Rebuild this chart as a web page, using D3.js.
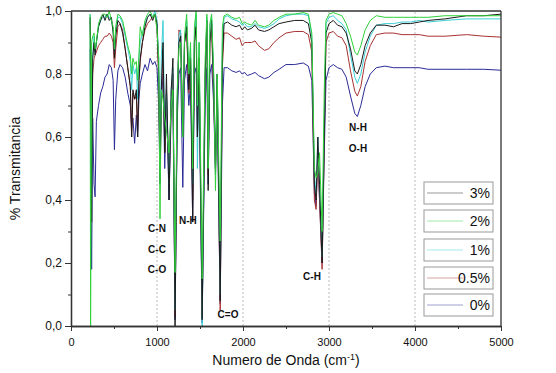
<!DOCTYPE html>
<html>
<head>
<meta charset="utf-8">
<script src="https://cdn.jsdelivr.net/npm/d3@7"></script>
<style>
  body { margin: 0; background: #fff; }
  text { font-family: "Liberation Sans", Arial, sans-serif; }
</style>
</head>
<body>
<div id="chart"></div>
<script>
// wavenumber (cm-1) shared by all spectra
const wavenumber = [222, 228, 240, 252, 268, 280, 295, 320, 345, 370, 395, 420, 445, 470, 490, 505, 520, 545, 570, 600,
  630, 660, 690, 705, 720, 740, 760, 775, 790, 805, 830, 860, 890, 920, 950, 975, 1000, 1020, 1035, 1050,
  1070, 1090, 1110, 1140, 1165, 1185, 1210, 1235, 1255, 1275, 1300, 1320, 1345, 1370, 1390, 1415, 1435, 1455, 1470, 1490,
  1525, 1560, 1580, 1595, 1615, 1635, 1660, 1680, 1700, 1735, 1760, 1780, 1820, 1870, 1920, 1960, 1990, 2020, 2050, 2100,
  2140, 2180, 2250, 2300, 2360, 2420, 2500, 2600, 2700, 2760, 2800, 2830, 2850, 2870, 2890, 2920, 2945, 2965, 3000, 3050,
  3100, 3150, 3200, 3250, 3300, 3330, 3370, 3420, 3480, 3550, 3650, 3750, 3850, 3950, 4050, 4150, 4350, 4600, 4800, 5000];

// transmittance for each sample
const t3 = [0.98, 0.9, 0.33, 0.85, 0.9, 0.86, 0.9, 0.95, 0.97, 0.99, 0.97, 0.99, 0.97, 0.98, 0.93, 0.85, 0.92, 0.97, 0.96, 0.93,
  0.88, 0.82, 0.76, 0.6, 0.75, 0.72, 0.75, 0.6, 0.78, 0.85, 0.9, 0.95, 0.98, 0.99, 0.97, 0.99, 0.96, 0.8, 0.46, 0.75,
  0.9, 0.55, 0.8, 0.4, 0.75, 0.85, 0.0, 0.7, 0.9, 0.92, 0.6, 0.9, 0.95, 0.75, 0.85, 0.33, 0.9, 0.95, 0.6, 0.85,
  0.02, 0.8, 0.97, 0.43, 0.9, 0.97, 0.75, 0.5, 0.8, 0.08, 0.85, 0.96, 0.965, 0.955, 0.95, 0.955, 0.94, 0.95, 0.94, 0.945,
  0.955, 0.94, 0.935, 0.94, 0.95, 0.96, 0.965, 0.97, 0.97, 0.96, 0.9, 0.45, 0.4, 0.6, 0.45, 0.2, 0.6, 0.93, 0.96, 0.97,
  0.955, 0.95, 0.93, 0.88, 0.81, 0.8, 0.83, 0.89, 0.93, 0.955, 0.955, 0.95, 0.96, 0.96, 0.965, 0.97, 0.975, 0.985, 0.985, 0.99];

const t2 = [0.99, 0.0, 0.9, 0.92, 0.93, 0.88, 0.9, 0.96, 0.98, 0.99, 0.99, 0.98, 1.0, 0.97, 0.95, 0.88, 0.95, 0.99, 0.985, 0.97,
  0.93, 0.89, 0.86, 0.8, 0.85, 0.83, 0.84, 0.78, 0.86, 0.95, 0.92, 0.97, 0.99, 1.0, 0.98, 0.99, 0.94, 0.85, 0.34, 0.75,
  0.72, 0.66, 0.62, 0.55, 0.7, 0.75, 0.17, 0.75, 0.88, 0.9, 0.6, 0.92, 0.99, 0.8, 0.9, 0.5, 0.95, 1.0, 0.7, 0.9,
  0.15, 0.85, 0.99, 0.5, 0.96, 0.99, 0.8, 0.43, 0.8, 0.27, 0.95, 0.985, 0.99, 0.98, 0.975, 0.98, 0.96, 0.965, 0.96, 0.955,
  0.97, 0.955, 0.95, 0.955, 0.97, 0.98, 0.99, 0.99, 0.995, 0.99, 0.93, 0.5, 0.47, 0.49, 0.55, 0.3, 0.75, 0.97, 0.99, 0.995,
  0.99, 0.985, 0.96, 0.92, 0.87, 0.86, 0.89, 0.94, 0.97, 0.985, 0.98, 0.98, 0.98, 0.98, 0.98, 0.98, 0.985, 0.985, 0.985, 0.985];

const t1 = [0.99, 0.6, 0.4, 0.85, 0.92, 0.87, 0.9, 0.95, 0.97, 0.98, 0.98, 0.99, 0.98, 0.97, 0.94, 0.87, 0.94, 0.98, 0.98, 0.96,
  0.92, 0.88, 0.84, 0.75, 0.83, 0.8, 0.82, 0.72, 0.85, 0.9, 0.93, 0.96, 0.98, 0.99, 0.98, 1.0, 0.97, 0.85, 0.5, 0.85,
  0.97, 0.6, 0.75, 0.45, 0.75, 0.82, 0.05, 0.72, 0.92, 0.94, 0.6, 0.9, 0.97, 0.8, 0.88, 0.45, 0.92, 0.99, 0.5, 0.9,
  0.0, 0.8, 0.98, 0.5, 0.95, 0.98, 0.78, 0.5, 0.8, 0.1, 0.9, 0.98, 0.985, 0.975, 0.97, 0.965, 0.955, 0.96, 0.95, 0.95,
  0.96, 0.95, 0.945, 0.95, 0.96, 0.975, 0.985, 0.99, 0.99, 0.985, 0.92, 0.48, 0.42, 0.6, 0.45, 0.22, 0.65, 0.96, 0.98, 0.985,
  0.97, 0.96, 0.94, 0.86, 0.79, 0.77, 0.8, 0.87, 0.92, 0.955, 0.96, 0.96, 0.965, 0.965, 0.97, 0.965, 0.97, 0.975, 0.975, 0.975];

const t05 = [0.97, 0.8, 0.5, 0.8, 0.85, 0.86, 0.87, 0.89, 0.9, 0.91, 0.92, 0.92, 0.93, 0.92, 0.9, 0.82, 0.88, 0.95, 0.96, 0.94,
  0.88, 0.82, 0.76, 0.6, 0.74, 0.72, 0.73, 0.62, 0.78, 0.84, 0.9, 0.94, 0.96, 0.97, 0.98, 0.99, 0.95, 0.78, 0.5, 0.72,
  0.88, 0.55, 0.75, 0.45, 0.7, 0.8, 0.03, 0.7, 0.94, 0.93, 0.62, 0.9, 0.93, 0.74, 0.85, 0.4, 0.9, 0.97, 0.6, 0.85,
  0.03, 0.78, 0.95, 0.48, 0.9, 0.94, 0.72, 0.5, 0.78, 0.05, 0.82, 0.93, 0.93, 0.92, 0.91, 0.915, 0.89, 0.9, 0.9, 0.9,
  0.905, 0.89, 0.875, 0.88, 0.9, 0.915, 0.93, 0.935, 0.935, 0.925, 0.87, 0.4, 0.37, 0.55, 0.4, 0.18, 0.6, 0.9, 0.93, 0.935,
  0.92, 0.915, 0.89, 0.81, 0.745, 0.73, 0.76, 0.84, 0.89, 0.925, 0.93, 0.93, 0.925, 0.925, 0.925, 0.92, 0.92, 0.925, 0.92, 0.917];

const t0 = [0.88, 0.6, 0.18, 0.66, 0.45, 0.41, 0.65, 0.7, 0.74, 0.76, 0.79, 0.8, 0.83, 0.82, 0.78, 0.56, 0.72, 0.81, 0.83, 0.82,
  0.79, 0.74, 0.7, 0.63, 0.66, 0.58, 0.67, 0.6, 0.72, 0.77, 0.8, 0.83, 0.81, 0.85, 0.83, 0.84, 0.82, 0.7, 0.45, 0.7,
  0.8, 0.5, 0.72, 0.4, 0.68, 0.72, 0.02, 0.65, 0.8, 0.82, 0.44, 0.78, 0.83, 0.7, 0.77, 0.33, 0.8, 0.82, 0.6, 0.75,
  0.01, 0.7, 0.82, 0.45, 0.8, 0.83, 0.7, 0.48, 0.7, 0.07, 0.7, 0.82, 0.82, 0.81, 0.805, 0.81, 0.8, 0.805, 0.795, 0.8,
  0.805, 0.795, 0.785, 0.79, 0.805, 0.815, 0.83, 0.83, 0.835, 0.825, 0.78, 0.42, 0.38, 0.55, 0.4, 0.2, 0.55, 0.78, 0.82, 0.83,
  0.82, 0.815, 0.79, 0.73, 0.675, 0.665, 0.7, 0.76, 0.8, 0.82, 0.825, 0.82, 0.82, 0.82, 0.82, 0.815, 0.815, 0.815, 0.815, 0.812];

const seriesNames = ["3%", "2%", "1%", "0.5%", "0%"];
const seriesColors = ["#1a1a1a", "#2fd13a", "#3ccfd6", "#a83232", "#2b2b96"];
const seriesValues = [t3, t2, t1, t05, t0];

const xTicks = [0, 1000, 2000, 3000, 4000, 5000];
const yTicks = [0, 0.2, 0.4, 0.6, 0.8, 1.0];
const gridLines = [1000, 2000, 3000, 4000];

const labels = ["C-N", "C-C", "C-O", "N-H", "C=O", "C-H", "N-H", "O-H"];
const labelX = [1000, 1000, 1000, 1360, 1826, 2802, 3337, 3337];
const labelY = [0.308, 0.244, 0.178, 0.336, 0.038, 0.156, 0.629, 0.565];

let width = 556,
    height = 373,
    margin = ({ top: 11, right: 55, bottom: 47, left: 71 });

const svg = d3.select("#chart")
    .append("svg")
    .attr("width", width)
    .attr("height", height)
    .attr("viewBox", [0, 0, width, height]);

let x = d3.scaleLinear()
    .domain([0, 5000])
    .range([margin.left, width - margin.right]);

let y = d3.scaleLinear()
    .domain([0, 1])
    .range([height - margin.bottom, margin.top]);

// dotted vertical grid
svg.append("g")
    .selectAll("line")
    .data(gridLines)
    .join("line")
    .attr("x1", d => x(d)).attr("x2", d => x(d))
    .attr("y1", y(0)).attr("y2", y(1))
    .attr("stroke", "#bbb")
    .attr("stroke-dasharray", "2,2");

// spectra, 0% drawn first so 2% ends on top
const line = d3.line()
    .x((d, i) => x(wavenumber[i]))
    .y(d => y(d));

const order = [4, 3, 2, 0, 1];
svg.append("g")
    .selectAll("path")
    .data(order)
    .join("path")
    .attr("d", i => line(seriesValues[i]))
    .attr("fill", "none")
    .attr("stroke", i => seriesColors[i])
    .attr("stroke-width", 1)
    .attr("stroke-linejoin", "round");

// axes
const xAxis = svg.append("g")
    .attr("transform", `translate(0,${y(0)})`)
    .call(d3.axisBottom(x).tickValues(xTicks).tickFormat(d3.format("d")).tickSize(5).tickSizeOuter(0));
svg.append("g")
    .attr("transform", `translate(0,${y(0)})`)
    .call(d3.axisBottom(x).tickValues(d3.range(500, 5000, 1000)).tickFormat("").tickSize(3).tickSizeOuter(0));

const yAxis = svg.append("g")
    .attr("transform", `translate(${x(0)},0)`)
    .call(d3.axisLeft(y).tickValues(yTicks).tickFormat(d => d3.format(".1f")(d).replace(".", ",")).tickSize(6).tickSizeOuter(0));
svg.append("g")
    .attr("transform", `translate(${x(0)},0)`)
    .call(d3.axisLeft(y).tickValues([0.1, 0.3, 0.5, 0.7, 0.9]).tickFormat("").tickSize(3).tickSizeOuter(0));

svg.selectAll(".domain").attr("stroke", "#333").attr("stroke-width", 1.3);
svg.selectAll(".tick line").attr("stroke", "#333");
svg.selectAll(".tick text").attr("font-size", 11).attr("fill", "#111")
    .attr("font-family", "'Liberation Sans', Arial, sans-serif");
xAxis.selectAll(".tick text").attr("dy", "1.1em");
yAxis.selectAll(".tick text").attr("font-size", 12);

// top and right frame
svg.append("line")
    .attr("x1", x(0)).attr("x2", x(5000))
    .attr("y1", y(1)).attr("y2", y(1))
    .attr("stroke", "#333").attr("stroke-width", 1.3);
svg.append("line")
    .attr("x1", x(5000)).attr("x2", x(5000))
    .attr("y1", y(1)).attr("y2", y(0))
    .attr("stroke", "#333").attr("stroke-width", 1.3);

// band labels
svg.append("g")
    .selectAll("text")
    .data(labels)
    .join("text")
    .attr("x", (d, i) => x(labelX[i]))
    .attr("y", (d, i) => y(labelY[i]))
    .attr("dy", "0.35em")
    .attr("text-anchor", "middle")
    .attr("font-size", 10)
    .attr("font-weight", "bold")
    .attr("fill", "#111")
    .text(d => d);

// axis titles
svg.append("text")
    .attr("transform", `translate(20,${(y(0) + y(1)) / 2}) rotate(-90)`)
    .attr("text-anchor", "middle")
    .attr("font-size", 14)
    .attr("fill", "#111")
    .text("% Transmitancia");

const xt = svg.append("text")
    .attr("x", (x(0) + x(5000)) / 2)
    .attr("y", 365)
    .attr("text-anchor", "middle")
    .attr("font-size", 14)
    .attr("fill", "#111");
xt.append("tspan").text("Numero de Onda (cm");
xt.append("tspan").attr("dy", -5).attr("font-size", 9).text("-1");
xt.append("tspan").attr("dy", 5).text(")");

// legend: one box per series
const boxTop = [182, 210, 239, 267, 294];
const legend = svg.append("g")
    .selectAll("g")
    .data(seriesNames)
    .join("g")
    .attr("transform", (d, i) => `translate(424,${boxTop[i]})`);

legend.append("rect")
    .attr("width", 69).attr("height", 22)
    .attr("fill", "#fff")
    .attr("stroke", "#999");
legend.append("line")
    .attr("x1", 3).attr("x2", 39)
    .attr("y1", 11).attr("y2", 11)
    .attr("stroke", (d, i) => seriesColors[i])
    .attr("stroke-opacity", 0.45);
legend.append("text")
    .attr("x", 66).attr("y", 11).attr("dy", "0.36em")
    .attr("text-anchor", "end")
    .attr("font-size", 14)
    .attr("fill", "#111")
    .text(d => d);
</script>
</body>
</html>
